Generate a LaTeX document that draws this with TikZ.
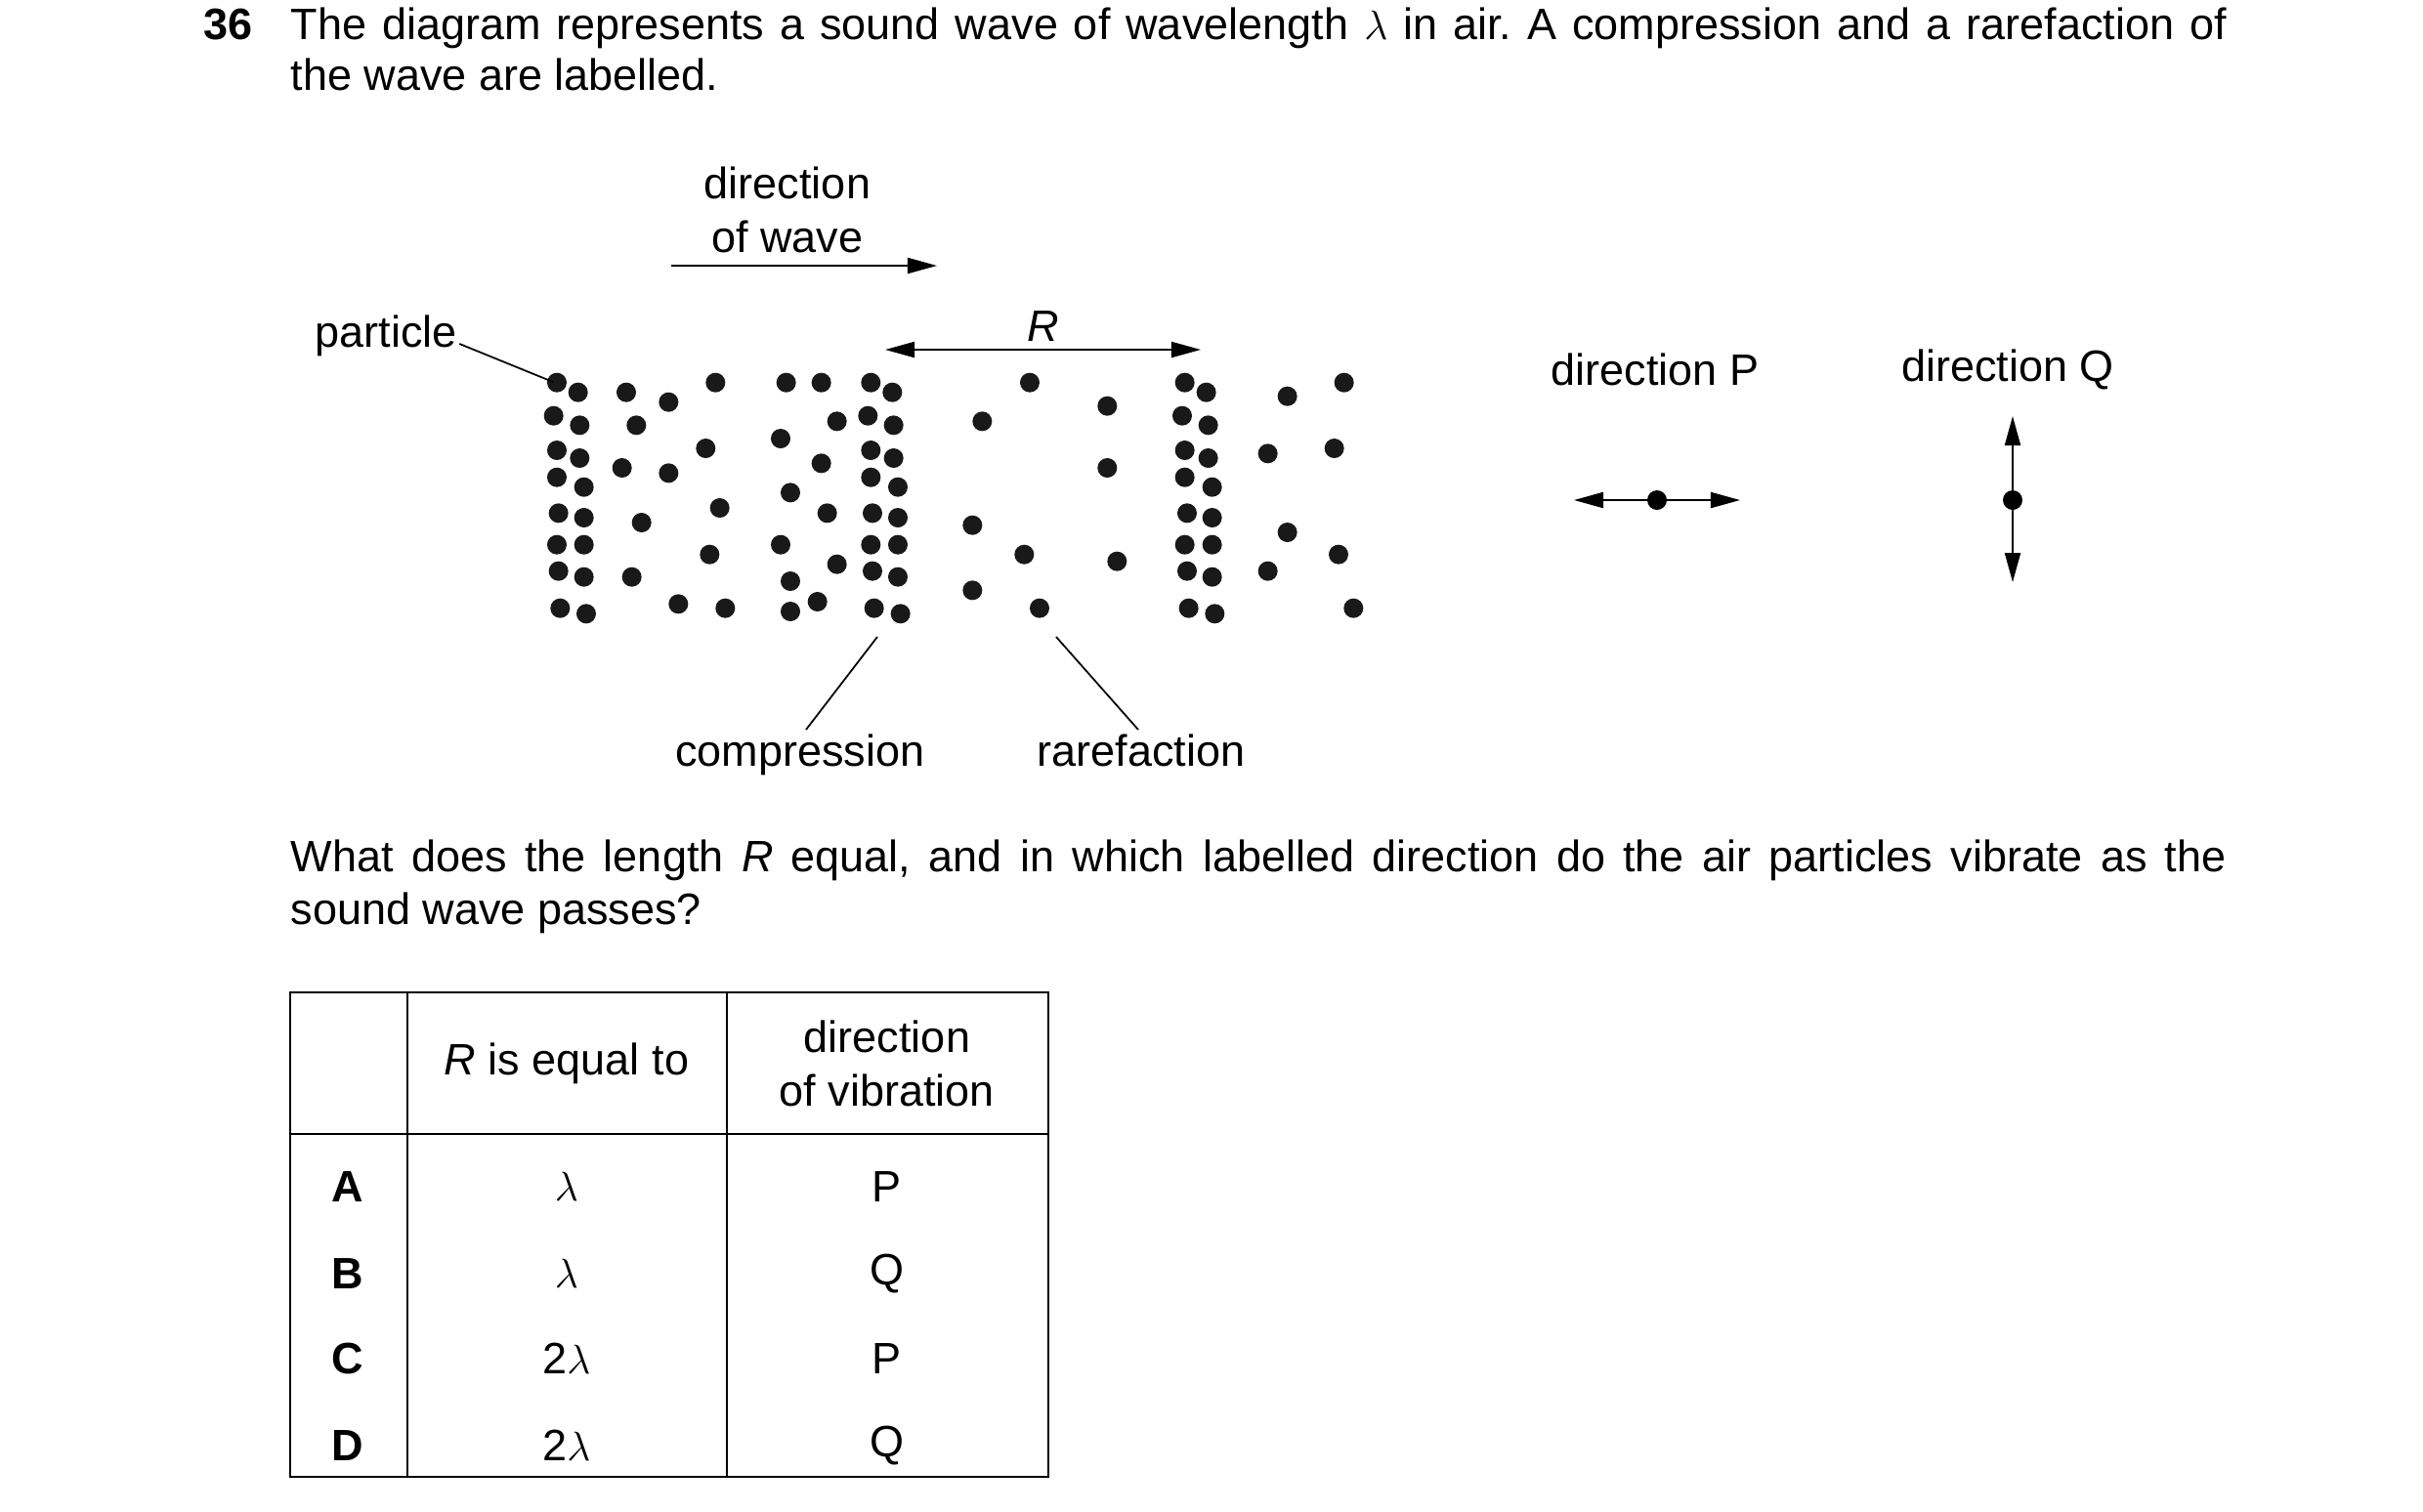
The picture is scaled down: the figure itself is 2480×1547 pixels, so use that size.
\documentclass[tikz,border=0pt]{standalone}
\usepackage{fontspec}
\setmainfont{Liberation Sans}
\usetikzlibrary{arrows.meta}
\begin{document}
\frenchspacing
\begin{tikzpicture}[x=0.01cm,y=-0.01cm,
  every node/.style={font=\fontsize{12.8}{15.5}\selectfont,inner sep=0pt},
  arr/.style={line width=0.6pt,-{Triangle[length=3mm,width=1.6mm]}},
  darr/.style={line width=0.6pt,{Triangle[length=3mm,width=1.6mm]}-{Triangle[length=3mm,width=1.6mm]}},
  lead/.style={line width=0.5pt},
  tab/.style={line width=0.8pt}]
\useasboundingbox (0,0) rectangle (2480,1547);
% title
\node[anchor=base west,font=\fontsize{12.8}{15.5}\selectfont\bfseries] (num) at (208,40) {36};
\node[anchor=base west] (t1) at (297,40) {\makebox[19.8cm][s]{The diagram represents a sound wave of wavelength $\lambda$ in air. A compression and a rarefaction of}};
\node[anchor=base west] (t2) at (297,92) {the wave are labelled.};
% direction of wave
\node[align=center] (dw) at (806,215) {direction\\of wave};
\coordinate (dwa) at (687,272); \coordinate (dwb) at (959,272);
\draw[arr] (dwa) -- (dwb);
% R
\coordinate (ra) at (906,358); \coordinate (rb) at (1229,358);
\draw[darr] (ra) -- (rb);
\node (R) at (1068,334) {\itshape R};
% dots
\begin{scope}[shift={(540,370)},x=0.01cm/3,y=-0.01cm/3]
\foreach \p in {(90,65),(155,95),(303,95),(433,125),(577,65),(794,65),(902,65),(1054,65),(1120,95),
(80,167),(160,196),(334,196),(950,184),(1045,167),(1124,196),
(90,273),(160,297),(547,267),(777,237),(1054,273),(1124,297),
(90,356),(173,386),(290,327),(433,343),(902,313),(1054,356),(1137,386),
(95,466),(173,480),(350,495),(590,450),(807,403),(920,466),(1059,466),(1137,480),
(90,563),(173,563),(559,593),(777,563),(1054,563),(1137,563),
(95,644),(173,662),(320,662),(950,623),(807,675),(1059,644),(1137,662),
(100,758),(180,775),(463,745),(607,758),(807,768),(890,738),(1064,758),(1145,775)}
  \fill[black!90] \p circle[radius=0.1cm];
\end{scope}
\begin{scope}[shift={(980,370)},x=0.01cm/3,y=-0.01cm/3]
\foreach \p in {(222,65),(460,137),(76,184),(460,327),(46,503),(205,593),(490,614),(46,703),(252,758),
(698,65),(764,95),(690,167),(770,196),(698,273),(770,297),(698,356),(782,386),(705,466),(782,480),(698,563),(782,563),(705,644),(782,662),(710,758),(790,775),
(1013,107),(1187,65),(953,283),(1157,267),(1013,525),(1170,593),(953,644),(1216,758)}
  \fill[black!90] \p circle[radius=0.1cm];
\end{scope}
% labels
\node (part) at (395,344) {particle};
\coordinate (pdot) at (566,391);
\draw[lead] (part.east) ++(2,8) -- (pdot);
\node[anchor=base] (comp) at (819,784) {compression};
\node[anchor=base] (rare) at (1168,784) {rarefaction};
\coordinate (ct) at (898,652); \coordinate (rt) at (1081,652);
\coordinate (cb) at (825,747); \coordinate (rb2) at (1165,747);
\draw[lead] (ct) -- (cb);
\draw[lead] (rt) -- (rb2);
% directions
\node (dP) at (1694,378) {direction P};
\node (dQ) at (2055,378) {direction Q};
\coordinate (pa) at (1611,512); \coordinate (pb) at (1781,512);
\coordinate (pc) at (1696,512);
\draw[arr] (pc) -- (pa); \draw[arr] (pc) -- (pb);
\fill (pc) circle[radius=0.1cm];
\coordinate (qa) at (2060,426); \coordinate (qb) at (2060,596);
\coordinate (qc) at (2060,512);
\draw[arr] (qc) -- (qa); \draw[arr] (qc) -- (qb);
\fill (qc) circle[radius=0.1cm];
% question
\node[anchor=base west] (q1) at (297,892) {\makebox[19.8cm][s]{What does the length \textit{R} equal, and in which labelled direction do the air particles vibrate as the}};
\node[anchor=base west] (q2) at (297,946) {sound wave passes?};
% table
\draw[tab] (297,1016) rectangle (1073,1512);
\draw[tab] (297,1161) -- (1073,1161);
\draw[tab] (417,1016) -- (417,1512);
\draw[tab] (744,1016) -- (744,1512);
\node (h1) at (580,1089) {\textit{R} is equal to};
\node[align=center] (h2) at (908,1089) {direction\\of vibration};
\foreach \l/\r/\d/\y in {A/$\lambda$/P/1215,B/$\lambda$/Q/1304,C/2$\lambda$/P/1391,D/2$\lambda$/Q/1480}{
  \node[font=\fontsize{12.8}{15.5}\selectfont\bfseries] (L\l) at (356,\y) {\l};
  \node (V\l) at (580,\y) {\r};
  \node (D\l) at (908,\y) {\d};
}
\end{tikzpicture}
\end{document}
